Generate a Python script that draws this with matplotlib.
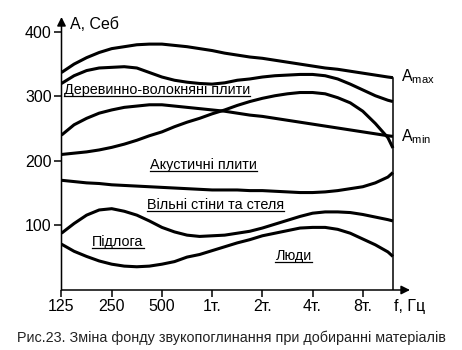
import matplotlib
matplotlib.use('Agg')
import matplotlib.pyplot as plt
from matplotlib.lines import Line2D

plt.rcParams['font.family'] = ['Liberation Sans', 'DejaVu Sans']
plt.rcParams['mathtext.fontset'] = 'custom'
plt.rcParams['mathtext.rm'] = 'Liberation Sans'

# Положення по осі частот (0 = 125 Гц, крок 1 = октава), відліки через чверть октави
freq_pos = [i * 0.25 for i in range(27)] + [6.6]
freq_labels = ['125', '250', '500', '1т.', '2т.', '4т.', '8т.']

# Криві фонду звукопоглинання, Себ
a_max = [337, 350, 360, 368, 374, 377, 380, 381, 381, 379, 377, 374, 371, 367,
         364, 361, 359, 356, 353, 350, 347, 344, 342, 339, 336, 333, 330, 329]
dvp_top = [320, 332, 340, 344, 345, 346, 344, 337, 330, 325, 322, 320, 319, 321,
           325, 327, 330, 332, 333, 334, 334, 332, 327, 319, 310, 301, 294, 292]
a_min = [240, 256, 266, 274, 279, 283, 285, 287, 287, 285, 283, 281, 279, 277,
         274, 271, 269, 266, 263, 260, 257, 254, 251, 248, 245, 242, 239, 238]
acoustic_top = [210, 212, 214, 217, 221, 226, 232, 239, 245, 253, 260, 266, 273, 279,
                286, 292, 297, 301, 304, 306, 306, 304, 298, 290, 277, 258, 236, 220]
acoustic_low = [170, 168, 166, 165, 163, 162, 161, 160, 159, 158, 157, 156, 155, 155,
                155, 154, 154, 153, 152, 151, 151, 152, 154, 157, 160, 166, 175, 182]
walls = [88, 103, 116, 124, 126, 122, 116, 107, 97, 90, 85, 83, 84, 85,
         88, 91, 96, 102, 108, 114, 119, 121, 121, 120, 117, 113, 109, 107]
people = [71, 60, 52, 45, 40, 37, 36, 37, 40, 44, 51, 55, 61, 67,
          73, 78, 84, 88, 92, 96, 97, 97, 94, 88, 79, 70, 59, 52]

curves = [a_max, dvp_top, a_min, acoustic_top, acoustic_low, walls, people]

fig = plt.figure(figsize=(4.62, 3.5), dpi=100)
ax = fig.add_axes([61.5 / 462, 60 / 350, (410 - 61.5) / 462, 273 / 350])
ax.set_xlim(0, 6.94)
ax.set_ylim(0, 423)

for c in curves:
    ax.plot(freq_pos, c, color='black', lw=2.2, solid_joinstyle='round', solid_capstyle='butt')

# Права межа
ax.plot([6.6, 6.6], [0, a_max[-1]], color='black', lw=1.1)

# Осі зі стрілками
for s in ax.spines.values():
    s.set_visible(False)
ax.annotate('', xy=(0, 423), xytext=(0, 0),
            arrowprops=dict(arrowstyle='-|>', lw=1.1, color='black', mutation_scale=13, shrinkA=0, shrinkB=0),
            annotation_clip=False)
ax.annotate('', xy=(6.94, 0), xytext=(0, 0),
            arrowprops=dict(arrowstyle='-|>', lw=1.1, color='black', mutation_scale=13, shrinkA=0, shrinkB=0),
            annotation_clip=False)

ax.set_yticks([100, 200, 300, 400])
ax.set_xticks(range(len(freq_labels)))
ax.set_xticklabels([])
ax.tick_params(axis='both', direction='out', length=5, width=1.1, labelsize=11.5, colors='black')
ax.tick_params(axis='y', pad=2)

# Підписи частот на одній лінії з "f, Гц"
for i, lab in enumerate(freq_labels):
    ax.text(i, -26, lab, ha='center', va='center', fontsize=11.5, clip_on=False)
ax.text(6.94, -26, 'f, Гц', ha='center', va='center', fontsize=11.5, clip_on=False)

ax.text(0.17, 411, 'A, Себ', ha='left', va='center', fontsize=11.5)
ax.text(6.77, 330, r'A$_{\mathregular{max}}$', ha='left', va='center', fontsize=11.5)
ax.text(6.77, 237, r'A$_{\mathregular{min}}$', ha='left', va='center', fontsize=11.5)

labels = [
    ('Деревинно-волокняні плити', 0.05, 310),
    ('Акустичні плити', 1.76, 193),
    ('Вільні стіни та стеля', 1.70, 131),
    ('Підлога', 0.61, 74),
    ('Люди', 4.26, 53),
]
texts = [ax.text(x, y, t, ha='left', va='center', fontsize=10.4) for t, x, y in labels]

fig.text(0.5, 1 - 338 / 350, 'Рис.23. Зміна фонду звукопоглинання при добиранні матеріалів',
         ha='center', va='center', fontsize=10.4, color='#222222')

# Підкреслення підписів
fig.canvas.draw()
r = fig.canvas.get_renderer()
for t in texts:
    bb = t.get_window_extent(renderer=r)
    yy = bb.y0 + 1
    fig.add_artist(Line2D([bb.x0 / 462, bb.x1 / 462], [yy / 350, yy / 350],
                          transform=fig.transFigure, color='black', lw=0.9))

fig.savefig('out.png', dpi=100)
